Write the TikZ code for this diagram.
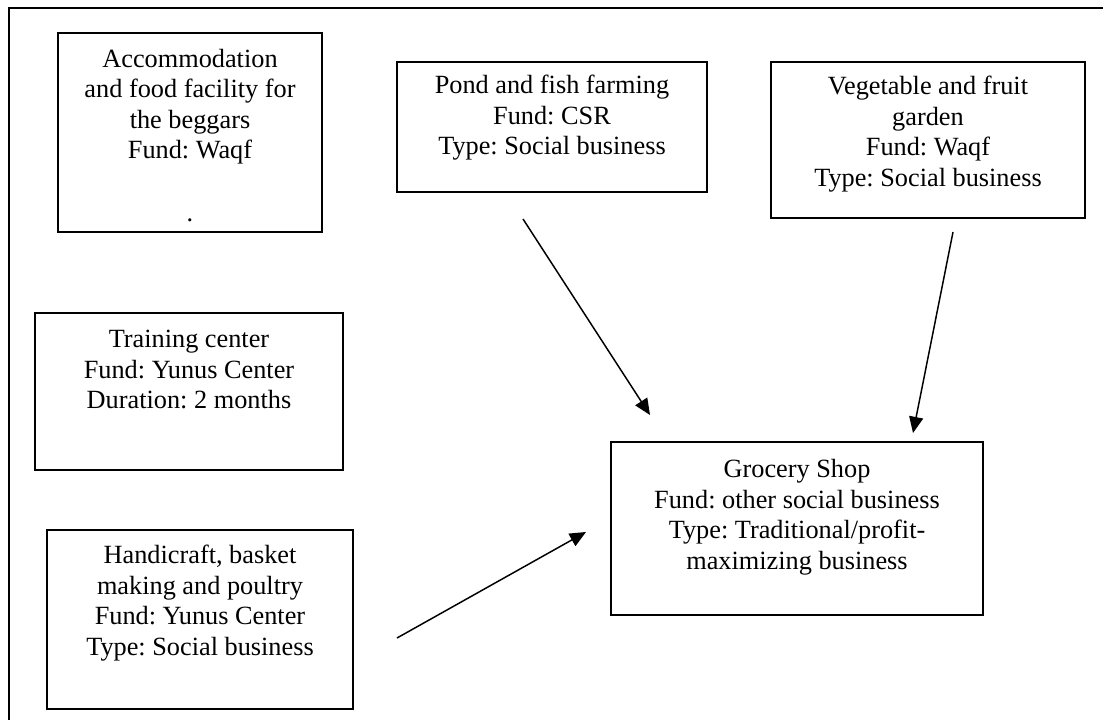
\documentclass[tikz,border=0pt]{standalone}
\usepackage{fontspec}
\setmainfont{Liberation Serif}
\usetikzlibrary{arrows.meta,positioning,fit}
\newcommand\boxfont{\fontsize{18.7}{21.7}\selectfont\frenchspacing}

\begin{document}
\begin{tikzpicture}[x=0.025cm,y=-0.025cm,
  box/.style={draw,line width=1.4pt,inner sep=0pt},
  txt/.style={align=center,inner sep=0pt,font=\boxfont},
  arr/.style={-{Triangle[length=11.5pt,width=10pt]},line width=1.05pt}]
\useasboundingbox(0,0)rectangle(1103,720);
\draw[line width=1.4pt](1103,8)--(9,8)--(9,720);
% boxes
\node[box,fit={(58,33)(322,232)}](acc){};
\node[box,fit={(397,62)(707,192)}](pond){};
\node[box,fit={(771,62)(1085,218)}](veg){};
\node[box,fit={(35,313)(343,470)}](train){};
\node[box,fit={(47,530)(353,709)}](hand){};
\node[box,fit={(611,442)(983,615)}](groc){};
% texts
\node[txt,below=0.42cm of acc.north](acctxt){Accommodation\\and food facility for\\the beggars\\Fund: Waqf\\[0.8cm].};
\node[txt,below=0.35cm of pond.north](pondtxt){Pond and fish farming\\Fund: CSR\\Type: Social business};
\node[txt,below=0.37cm of veg.north](vegtxt){Vegetable and fruit\\garden\\Fund: Waqf\\Type: Social business};
\node[txt,below=0.45cm of train.north](traintxt){Training center\\Fund: Yunus Center\\Duration: 2 months};
\node[txt,below=0.4cm of hand.north](handtxt){Handicraft, basket\\making and poultry\\Fund: Yunus Center\\Type: Social business};
\node[txt,below=0.45cm of groc.north](groctxt){Grocery Shop\\Fund: other social business\\Type: Traditional/profit-\\maximizing business};
% arrows
\coordinate(pondout)at(523,219);\coordinate(grocinA)at(650,415);
\coordinate(vegout)at(953,232);\coordinate(grocinB)at(913,433);
\coordinate(handout)at(397,638);\coordinate(grocinC)at(586,532);
\draw[arr](pondout)--(grocinA);
\draw[arr](vegout)--(grocinB);
\draw[arr](handout)--(grocinC);
\end{tikzpicture}
\end{document}
